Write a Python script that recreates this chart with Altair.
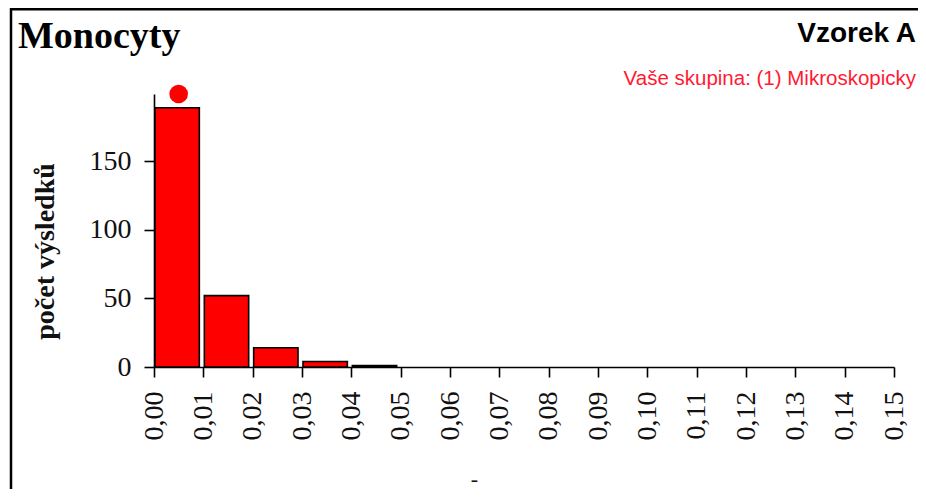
import altair as alt
import pandas as pd

# ---- data ----
bin_starts = [0.00, 0.01, 0.02, 0.03, 0.04]
bin_width = 0.01
counts = [189, 52, 14, 4, 1]
group_value = [0.005]          # "Vaše skupina" marker (bin centre)
x_ticks = [round(i * 0.01, 2) for i in range(16)]
y_ticks = [0, 50, 100, 150]
y_max = 199

title_text = "Monocyty"
sample_text = "Vzorek A"
group_text = "Vaše skupina: (1) Mikroskopicky"
y_title = "počet výsledků"
x_title = "-"

bars_df = pd.DataFrame({
    "start": bin_starts,
    "end": [s + bin_width for s in bin_starts],
    "count": counts,
})
dot_df = pd.DataFrame({"x": group_value})

SERIF = "Liberation Serif"
SANS = "Liberation Sans"

x_scale = alt.Scale(domain=[0, 0.15], nice=False, zero=False)
y_scale = alt.Scale(domain=[0, y_max], nice=False)

bars = alt.Chart(bars_df).mark_bar(
    color="#ff0000", stroke="#000000", strokeWidth=1.6, xOffset=1, x2Offset=-4
).encode(
    x=alt.X("start:Q", scale=x_scale, axis=alt.Axis(
        values=x_ticks,
        labelExpr="replace(format(datum.value, '.2f'), '.', ',')",
        labelAngle=270, labelFont=SERIF, labelFontSize=28, labelColor="#111111",
        labelPadding=14, tickSize=10, tickWidth=1.6, tickColor="#000000",
        domainColor="#000000", domainWidth=1.6, grid=False,
        title=x_title, titleFont=SERIF, titleFontSize=22, titleFontWeight="normal",
        titleX=320, titleY=111, titleBaseline="middle", titleColor="#111111",
    )),
    x2="end:Q",
    y=alt.Y("count:Q", scale=y_scale, axis=alt.Axis(
        values=y_ticks, labelFont=SERIF, labelFontSize=28, labelColor="#111111",
        labelPadding=13, tickSize=10, tickWidth=1.6, tickColor="#000000",
        domainColor="#000000", domainWidth=1.6, grid=False,
        title=y_title, titleFont=SERIF, titleFontSize=28, titleFontWeight="bold",
        titleAngle=270, titleX=-109, titleY=157, titleBaseline="middle",
        titleAlign="center", titleColor="#111111",
    )),
    y2=alt.Y2(datum=0),
)

dot = alt.Chart(dot_df).mark_circle(size=346, color="#ff0000", opacity=1).encode(
    x=alt.X("x:Q", scale=x_scale),
    y=alt.value(0),
)

t_title = alt.Chart(pd.DataFrame({"t": [title_text]})).mark_text(
    font=SERIF, fontSize=38, fontWeight="bold", align="left", baseline="alphabetic",
    color="#000000"
).encode(text="t:N", x=alt.value(-136), y=alt.value(-46))

t_sample = alt.Chart(pd.DataFrame({"t": [sample_text]})).mark_text(
    font=SANS, fontSize=28, fontWeight="bold", align="right", baseline="alphabetic",
    color="#000000"
).encode(text="t:N", x=alt.value(762), y=alt.value(-52))

t_group = alt.Chart(pd.DataFrame({"t": [group_text]})).mark_text(
    font=SANS, fontSize=20.5, align="right", baseline="alphabetic", color="#ff1a33"
).encode(text="t:N", x=alt.value(762), y=alt.value(-9))

frame_top = alt.Chart(pd.DataFrame({"a": [0]})).mark_rule(
    color="#000000", strokeWidth=3
).encode(x=alt.value(-143), x2=alt.value(800), y=alt.value(-85))

frame_left = alt.Chart(pd.DataFrame({"a": [0]})).mark_rule(
    color="#000000", strokeWidth=2.5
).encode(x=alt.value(-143), y=alt.value(-86), y2=alt.value(420))

chart = alt.layer(
    frame_top, frame_left, bars, dot, t_title, t_sample, t_group
).properties(
    width=740, height=273,
    background="#ffffff",
    autosize=alt.AutoSizeParams(type="none"),
    padding={"left": 146, "top": 86, "right": 24, "bottom": 122},
).configure_view(stroke=None)

chart.save("out.html", embed_options={"renderer": "svg", "actions": False})
